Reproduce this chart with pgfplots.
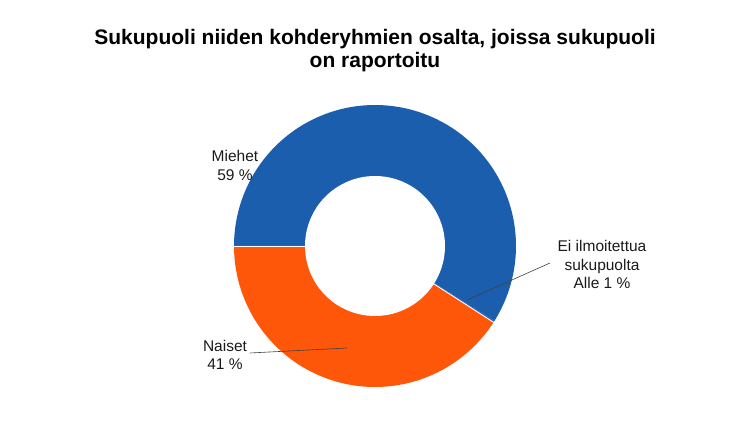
\documentclass[border=0pt]{standalone}
\usepackage{pgfplots}
\usepackage{pgfplotstable}
\pgfplotsset{compat=1.18}
\usepackage{fontspec}
\setmainfont{Liberation Sans}
\definecolor{mblue}{HTML}{1C5EAE}
\definecolor{morange}{HTML}{FF570A}
\definecolor{ltxt}{HTML}{1A1A1A}
\pgfplotstableread{
label value
Miehet 58.9
Ei 0.2
Naiset 40.9
}\piedata
\pgfplotstablegetelem{0}{value}\of\piedata \let\vA\pgfplotsretval
\pgfplotstablegetelem{1}{value}\of\piedata \let\vB\pgfplotsretval
\pgfplotstablegetelem{2}{value}\of\piedata \let\vC\pgfplotsretval
\pgfmathsetmacro{\aA}{180}
\pgfmathsetmacro{\aB}{180-3.6*\vA}
\pgfmathsetmacro{\aC}{\aB-3.6*\vB}
\pgfmathsetmacro{\aD}{\aC-3.6*\vC}
\begin{document}
\begin{tikzpicture}
\begin{axis}[
  width=750pt, height=436pt, scale only axis,
  xmin=0, xmax=750, ymin=0, ymax=436,
  hide axis, clip=false,
]
% slices (Miehet, then the tiny "Ei" slice, then Naiset)
\addplot[fill=mblue, draw=none, domain=\aB:\aA, samples=120, variable=\t]
  ({375+141*cos(\t)},{190+141*sin(\t)}) -- (axis cs:375,190) -- cycle;
\addplot[fill=mblue, draw=none, domain=\aC:\aB, samples=5, variable=\t]
  ({375+141*cos(\t)},{190+141*sin(\t)}) -- (axis cs:375,190) -- cycle;
\addplot[fill=morange, draw=none, domain=\aD:\aC, samples=100, variable=\t]
  ({375+141*cos(\t)},{190+141*sin(\t)}) -- (axis cs:375,190) -- cycle;
% slice borders
\addplot[draw=white, line width=0.9pt] coordinates {(375,190) (234,190)};
\addplot[draw=white, line width=0.9pt, variable=\r, domain=0:142, samples=2]
  ({375+\r*cos(\aC)},{190+\r*sin(\aC)});
% hole
\addplot[fill=white, draw=none, domain=0:360, samples=120, variable=\t]
  ({375+70*cos(\t)},{190+70*sin(\t)}) -- cycle;
% leader lines
\addplot[draw=black!75, line width=0.6pt] coordinates {(550,173) (467,136)};
\addplot[draw=black!75, line width=0.6pt] coordinates {(250,83) (347,88)};
% labels
\node[align=center, text=ltxt, font=\fontsize{15.5pt}{19pt}\selectfont] at (axis cs:235,270.5) {Miehet\\59 \%};
\node[align=center, text=ltxt, font=\fontsize{15.5pt}{18pt}\selectfont] at (axis cs:225,81) {Naiset\\41 \%};
\node[align=center, text=ltxt, font=\fontsize{15.5pt}{18.5pt}\selectfont] at (axis cs:602,171.5) {Ei ilmoitettua\\sukupuolta\\Alle 1 \%};
\node[align=center, text=black, font=\bfseries\fontsize{21pt}{23pt}\selectfont] at (axis cs:375,385.5) {Sukupuoli niiden kohderyhmien osalta, joissa sukupuoli\\on raportoitu};
\end{axis}
\path[use as bounding box] (current axis.south west) rectangle (current axis.north east);
\end{tikzpicture}
\end{document}
